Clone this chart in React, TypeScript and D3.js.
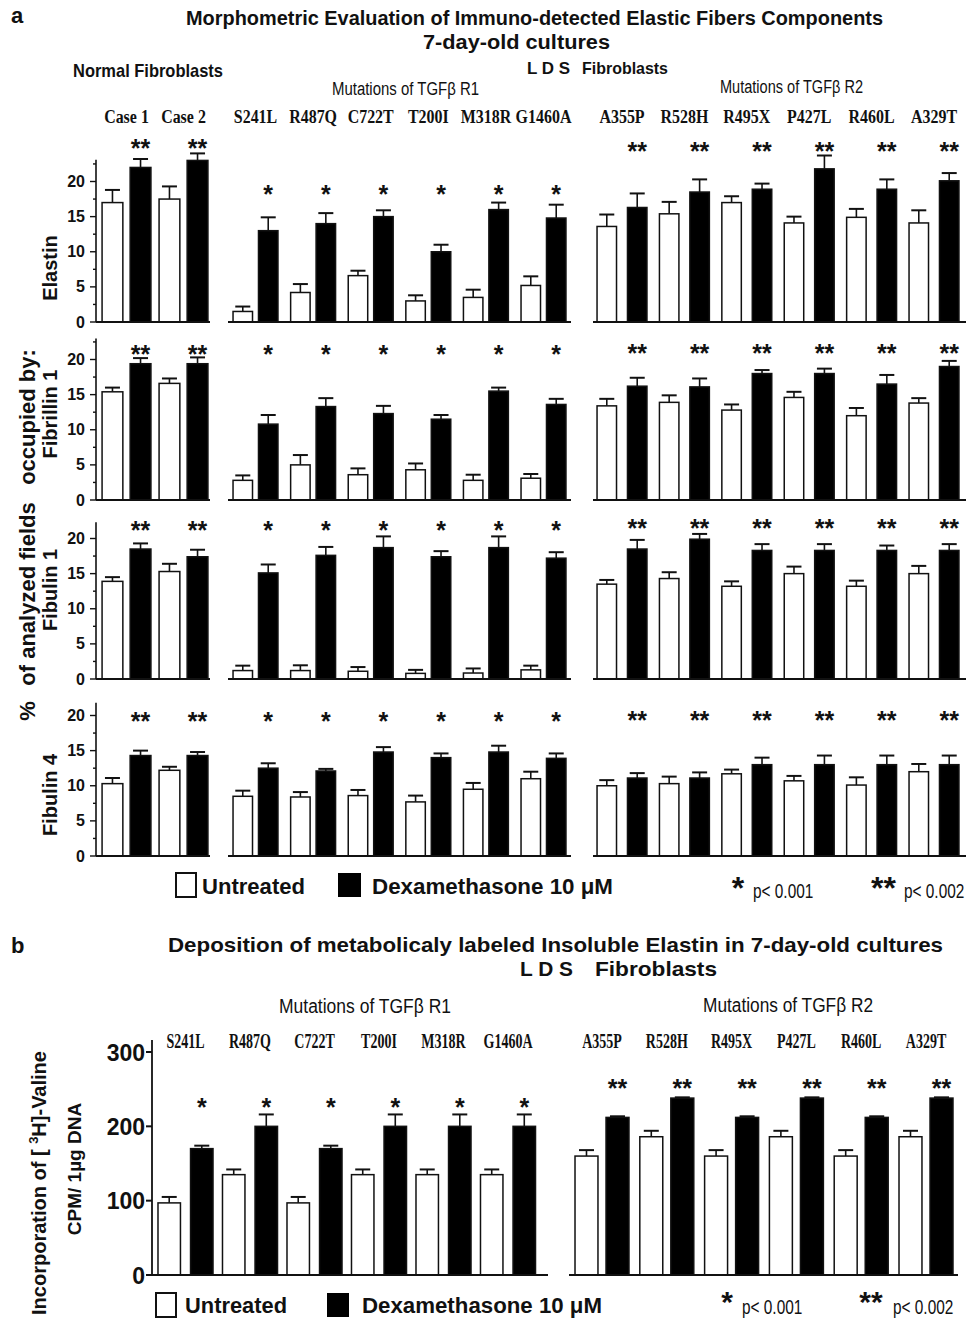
import React from 'react';
import * as d3 from 'd3';

const W = 968;
const H = 1320;
const SANS = "'Liberation Sans', Arial, Helvetica, sans-serif";
const SERIF = "'Liberation Serif', 'Times New Roman', serif";

// categories
const normalCases = ['Case 1', 'Case 2'];
const r1Mutations = ['S241L', 'R487Q', 'C722T', 'T200I', 'M318R', 'G1460A'];
const r2Mutations = ['A355P', 'R528H', 'R495X', 'P427L', 'R460L', 'A329T'];
const markers = ['Elastin', 'Fibrillin 1', 'Fibulin 1', 'Fibulin 4'];
const series = ['untreated', 'dexa'];

// panel a: % of fields, order = Case 1, Case 2, then R1 (6), then R2 (6)
const elastinUnt = [17.0, 17.5, 1.5, 4.2, 6.6, 3.0, 3.5, 5.2, 13.6, 15.4, 17.0, 14.1, 14.9, 14.1];
const elastinUntSem = [1.8, 1.8, 0.7, 1.2, 0.7, 0.8, 1.1, 1.3, 1.7, 1.7, 0.9, 0.9, 1.2, 1.8];
const elastinDex = [22.0, 23.0, 13.0, 14.0, 15.0, 10.0, 16.0, 14.8, 16.3, 18.5, 18.9, 21.8, 18.9, 20.1];
const elastinDexSem = [1.2, 1.0, 1.9, 1.5, 0.9, 1.0, 1.0, 1.9, 2.0, 1.8, 0.8, 1.9, 1.4, 1.1];

const fibrillinUnt = [15.4, 16.6, 2.8, 5.0, 3.6, 4.3, 2.8, 3.1, 13.4, 13.9, 12.8, 14.6, 12.0, 13.8];
const fibrillinUntSem = [0.6, 0.7, 0.7, 1.4, 0.9, 0.9, 0.8, 0.6, 1.0, 1.0, 0.8, 0.8, 1.1, 0.7];
const fibrillinDex = [19.4, 19.4, 10.8, 13.3, 12.3, 11.5, 15.5, 13.6, 16.2, 16.1, 18.0, 18.0, 16.5, 19.0];
const fibrillinDexSem = [0.8, 0.9, 1.3, 1.2, 1.1, 0.6, 0.5, 0.8, 1.2, 1.2, 0.5, 0.7, 1.3, 0.8];

const fibulin1Unt = [13.9, 15.3, 1.2, 1.2, 1.1, 0.8, 0.85, 1.3, 13.5, 14.3, 13.2, 15.0, 13.2, 15.0];
const fibulin1UntSem = [0.6, 1.1, 0.7, 0.75, 0.6, 0.5, 0.65, 0.6, 0.6, 0.9, 0.7, 1.0, 0.8, 1.1];
const fibulin1Dex = [18.5, 17.4, 15.1, 17.6, 18.7, 17.4, 18.7, 17.2, 18.5, 19.9, 18.3, 18.3, 18.3, 18.3];
const fibulin1DexSem = [0.8, 1.0, 1.2, 1.2, 1.6, 0.8, 1.6, 0.85, 1.3, 0.75, 0.9, 0.9, 0.7, 0.9];

const fibulin4Unt = [10.3, 12.2, 8.5, 8.4, 8.6, 7.7, 9.5, 11.0, 10.0, 10.3, 11.7, 10.7, 10.1, 12.0];
const fibulin4UntSem = [0.8, 0.5, 0.8, 0.7, 0.8, 0.9, 0.9, 1.0, 0.8, 1.0, 0.6, 0.7, 1.1, 1.1];
const fibulin4Dex = [14.3, 14.3, 12.5, 12.1, 14.8, 14.0, 14.8, 13.9, 11.1, 11.1, 13.0, 13.0, 13.0, 13.0];
const fibulin4DexSem = [0.7, 0.5, 0.7, 0.3, 0.7, 0.6, 0.9, 0.7, 0.7, 0.8, 1.0, 1.3, 1.3, 1.3];

// panel b: CPM / 1 µg DNA, order = R1 (6), then R2 (6)
const valineUnt = [97, 135, 97, 135, 135, 135, 160, 186, 160, 186, 160, 186];
const valineUntSem = [8, 7, 8, 7, 7, 7, 8, 8, 8, 8, 8, 8];
const valineDex = [170, 200, 170, 200, 200, 200, 212, 238, 212, 238, 212, 238];
const valineDexSem = [4, 16, 4, 16, 16, 16, 1.5, 1, 1.5, 1, 1.5, 1];

const yTicksA = [0, 5, 10, 15, 20];
const yTicksB = [0, 100, 200, 300];

const rowsA = [
  { name: markers[0], unt: elastinUnt, untSem: elastinUntSem, dex: elastinDex, dexSem: elastinDexSem },
  { name: markers[1], unt: fibrillinUnt, untSem: fibrillinUntSem, dex: fibrillinDex, dexSem: fibrillinDexSem },
  { name: markers[2], unt: fibulin1Unt, untSem: fibulin1UntSem, dex: fibulin1Dex, dexSem: fibulin1DexSem },
  { name: markers[3], unt: fibulin4Unt, untSem: fibulin4UntSem, dex: fibulin4Dex, dexSem: fibulin4DexSem },
];

// layout
const rowBase = [322, 500, 679, 856];
const rowAxisTop = [23.1, 23, 22.3, 21.8];
const rowLabelY = [268, 414, 590, 795];
const sigYA = [[143, 189, 146], [349, 349, 348], [525, 525, 523], [716, 716, 715]];
const axisXA = 96;

const groupsA = [
  { cats: normalCases, from: 0, range: [98, 212], pad: 0.143, innerPad: 0.26, sig: '**', line: [96, 210] },
  { cats: r1Mutations, from: 2, range: [226.7, 572.3], pad: 0.22, innerPad: 0.235, sig: '*', line: [228, 571] },
  { cats: r2Mutations, from: 8, range: [590.8, 965.2], pad: 0.2, innerPad: 0.36, sig: '**', line: [593, 966] },
];

const groupsB = [
  { cats: r1Mutations, from: 0, range: [153.25, 540.25], pad: 0.147, innerPad: 0.31, sig: '*', line: [152, 548], sigY: 1102 },
  { cats: r2Mutations, from: 6, range: [569.6, 958.4], pad: 0.167, innerPad: 0.26, sig: '**', line: [569, 958], sigY: 1083 },
];

const Stretch = ({ x, y, sx = 1, anchor = 'start', size = 18, weight = 'normal', family = SANS, len, children }: any) => (
  <text
    transform={`translate(${x},${y}) scale(${sx},1)`}
    textAnchor={anchor}
    fontSize={size}
    fontWeight={weight}
    fontFamily={family}
    fill="#111"
    textLength={len}
    lengthAdjust={len ? 'spacingAndGlyphs' : undefined}
  >
    {children}
  </text>
);

const Bars = ({ group, y, unt, untSem, dex, dexSem, sigY }: any) => {
  const x = d3.scaleBand<string>().domain(group.cats).range(group.range).paddingInner(group.pad).paddingOuter(group.pad / 2);
  const inner = d3.scaleBand<string>().domain(series).range([0, x.bandwidth()]).paddingInner(group.innerPad);
  const bw = inner.bandwidth();
  return (
    <g>
      {group.cats.map((c: string, i: number) => {
        const k = group.from + i;
        const vals = [
          { s: 'untreated', v: unt[k], e: untSem[k] },
          { s: 'dexa', v: dex[k], e: dexSem[k] },
        ];
        return (
          <g key={c}>
            {vals.map(d => {
              const bx = (x(c) ?? 0) + (inner(d.s) ?? 0);
              const cx = bx + bw / 2;
              return (
                <g key={d.s}>
                  <line x1={cx} x2={cx} y1={y(d.v)} y2={y(d.v + d.e)} stroke="#111" strokeWidth={1.6} />
                  <line x1={cx - 7.5} x2={cx + 7.5} y1={y(d.v + d.e)} y2={y(d.v + d.e)} stroke="#111" strokeWidth={2} />
                  <rect
                    x={bx}
                    y={y(d.v)}
                    width={bw}
                    height={y(0) - y(d.v)}
                    fill={d.s === 'dexa' ? '#000' : '#fff'}
                    stroke="#111"
                    strokeWidth={1.5}
                  />
                </g>
              );
            })}
            <text
              x={(x(c) ?? 0) + (inner('dexa') ?? 0) + bw / 2}
              y={sigY + 14}
              textAnchor="middle"
              fontSize={25}
              fontWeight="bold"
              fontFamily={SANS}
              fill="#111"
            >
              {group.sig}
            </text>
          </g>
        );
      })}
      <line x1={group.line[0]} x2={group.line[1]} y1={y(0)} y2={y(0)} stroke="#111" strokeWidth={2} />
    </g>
  );
};

const CatLabels = ({ group, y, size, sx }: any) => {
  const x = d3.scaleBand<string>().domain(group.cats).range(group.range).paddingInner(group.pad).paddingOuter(group.pad / 2);
  return (
    <g>
      {group.cats.map((c: string) => (
        <Stretch key={c} x={(x(c) ?? 0) + x.bandwidth() / 2} y={y} sx={sx} anchor="middle" size={size} weight="bold" family={SERIF}>
          {c}
        </Stretch>
      ))}
    </g>
  );
};

export default function App() {
  const yB = d3.scaleLinear().domain([0, 300]).range([1275, 1052]);
  const axisXB = 152;

  return (
    <div style={{ position: 'absolute', left: 0, top: 0, background: '#fff' }}>
      <svg width={W} height={H} style={{ display: 'block' }}>
        <rect width={W} height={H} fill="#fff" />

        {/* ---------- panel a headers ---------- */}
        <Stretch x={11} y={23} size={22} weight="bold">a</Stretch>
        <Stretch x={534.5} y={25} size={20} weight="bold" anchor="middle" len={697}>
          Morphometric Evaluation of Immuno-detected Elastic Fibers Components
        </Stretch>
        <Stretch x={516.5} y={49} size={20} weight="bold" anchor="middle" len={187}>7-day-old cultures</Stretch>
        <Stretch x={527} y={74} size={17} weight="bold" len={43}>L D S</Stretch>
        <Stretch x={582} y={74} size={17} weight="bold" len={86}>Fibroblasts</Stretch>
        <Stretch x={73} y={77} size={19} weight="bold" len={150}>Normal Fibroblasts</Stretch>
        <Stretch x={332} y={95} size={18} len={147}>Mutations of TGFβ R1</Stretch>
        <Stretch x={720} y={93} size={18} len={143}>Mutations of TGFβ R2</Stretch>
        {groupsA.map((g, i) => (
          <CatLabels key={i} group={g} y={123} size={19} sx={0.84} />
        ))}

        {/* y label panel a */}
        <text transform="translate(35,711) rotate(-90)" textAnchor="middle" fontSize={22} fontWeight="bold" fontFamily={SANS} fill="#111">%</text>
        <text transform="translate(35,594) rotate(-90)" textAnchor="middle" fontSize={22} fontWeight="bold" fontFamily={SANS} fill="#111">of analyzed fields</text>
        <text transform="translate(35,417) rotate(-90)" textAnchor="middle" fontSize={22} fontWeight="bold" fontFamily={SANS} fill="#111">occupied by:</text>

        {/* ---------- panel a rows ---------- */}
        {rowsA.map((row, ri) => {
          const base = rowBase[ri];
          const y = d3.scaleLinear().domain([0, 20]).range([base, base - 140.5]);
          const minor = d3.range(0, rowAxisTop[ri], 2.5);
          return (
            <g key={row.name}>
              <text
                transform={`translate(57,${rowLabelY[ri]}) rotate(-90)`}
                textAnchor="middle"
                fontSize={20}
                fontWeight="bold"
                fontFamily={SANS}
                fill="#111"
              >
                {row.name}
              </text>
              <line x1={axisXA} x2={axisXA} y1={y(0)} y2={y(rowAxisTop[ri])} stroke="#111" strokeWidth={1.6} />
              {minor.map(v => (
                <line key={v} x1={axisXA - (v % 5 === 0 ? 6 : 3)} x2={axisXA} y1={y(v)} y2={y(v)} stroke="#111" strokeWidth={1.4} />
              ))}
              {yTicksA.map(v => (
                <text key={v} x={85} y={y(v) + 5.5} textAnchor="end" fontSize={16} fontWeight="bold" fontFamily={SANS} fill="#111">
                  {v}
                </text>
              ))}
              {groupsA.map((g, gi) => (
                <Bars
                  key={gi}
                  group={g}
                  y={y}
                  unt={row.unt}
                  untSem={row.untSem}
                  dex={row.dex}
                  dexSem={row.dexSem}
                  sigY={sigYA[ri][gi]}
                />
              ))}
            </g>
          );
        })}

        {/* legend panel a */}
        <rect x={176} y={873} width={20} height={24} fill="#fff" stroke="#111" strokeWidth={2} />
        <Stretch x={202} y={894} size={22} weight="bold" len={103}>Untreated</Stretch>
        <rect x={338} y={873} width={23} height={24} fill="#000" />
        <Stretch x={372} y={894} size={22} weight="bold" len={241}>Dexamethasone 10 μM</Stretch>
        <Stretch x={738} y={899} size={32} weight="bold" anchor="middle">*</Stretch>
        <Stretch x={753} y={898} size={20} sx={0.77}>p&lt; 0.001</Stretch>
        <Stretch x={883.5} y={899} size={32} weight="bold" anchor="middle">**</Stretch>
        <Stretch x={904} y={898} size={20} sx={0.77}>p&lt; 0.002</Stretch>

        {/* ---------- panel b ---------- */}
        <Stretch x={11} y={953} size={22} weight="bold">b</Stretch>
        <Stretch x={555.5} y={952} size={20.5} weight="bold" anchor="middle" len={775}>
          Deposition of metabolicaly labeled Insoluble Elastin in 7-day-old cultures
        </Stretch>
        <Stretch x={520} y={976} size={21} weight="bold" len={53}>L D S</Stretch>
        <Stretch x={595} y={976} size={21} weight="bold" len={122}>Fibroblasts</Stretch>
        <Stretch x={279} y={1013} size={20} len={172}>Mutations of TGFβ R1</Stretch>
        <Stretch x={703} y={1012} size={20} len={170}>Mutations of TGFβ R2</Stretch>
        {groupsB.map((g, i) => (
          <CatLabels key={i} group={g} y={1048} size={20} sx={0.7} />
        ))}

        <text transform="translate(46,1183) rotate(-90)" textAnchor="middle" fontSize={20} fontWeight="bold" fontFamily={SANS} fill="#111">
          Incorporation of [ <tspan fontSize={13} dy={-8}>3</tspan>
          <tspan dy={8}>H]-Valine</tspan>
        </text>
        <text transform="translate(81,1169) rotate(-90)" textAnchor="middle" fontSize={19} fontWeight="bold" fontFamily={SANS} fill="#111">
          CPM/ 1µg DNA
        </text>

        <line x1={axisXB} x2={axisXB} y1={yB(0)} y2={1040} stroke="#111" strokeWidth={1.8} />
        {yTicksB.map(v => (
          <g key={v}>
            <line x1={axisXB - 6} x2={axisXB} y1={yB(v)} y2={yB(v)} stroke="#111" strokeWidth={2} />
            <text x={145} y={yB(v) + 8.5} textAnchor="end" fontSize={23} fontFamily={SANS} fontWeight="bold" fill="#111">
              {v}
            </text>
          </g>
        ))}
        {groupsB.map((g, gi) => (
          <Bars
            key={gi}
            group={g}
            y={yB}
            unt={valineUnt}
            untSem={valineUntSem}
            dex={valineDex}
            dexSem={valineDexSem}
            sigY={g.sigY}
          />
        ))}

        {/* legend panel b */}
        <rect x={156} y={1293} width={20} height={24} fill="#fff" stroke="#111" strokeWidth={2} />
        <Stretch x={185} y={1313} size={22} weight="bold" len={102}>Untreated</Stretch>
        <rect x={327} y={1293} width={22} height={24} fill="#000" />
        <Stretch x={362} y={1313} size={22} weight="bold" len={240}>Dexamethasone 10 μM</Stretch>
        <Stretch x={727} y={1312} size={30} weight="bold" anchor="middle">*</Stretch>
        <Stretch x={742} y={1314} size={20} sx={0.77}>p&lt; 0.001</Stretch>
        <Stretch x={871} y={1312} size={30} weight="bold" anchor="middle">**</Stretch>
        <Stretch x={893} y={1314} size={20} sx={0.77}>p&lt; 0.002</Stretch>
      </svg>
    </div>
  );
}
